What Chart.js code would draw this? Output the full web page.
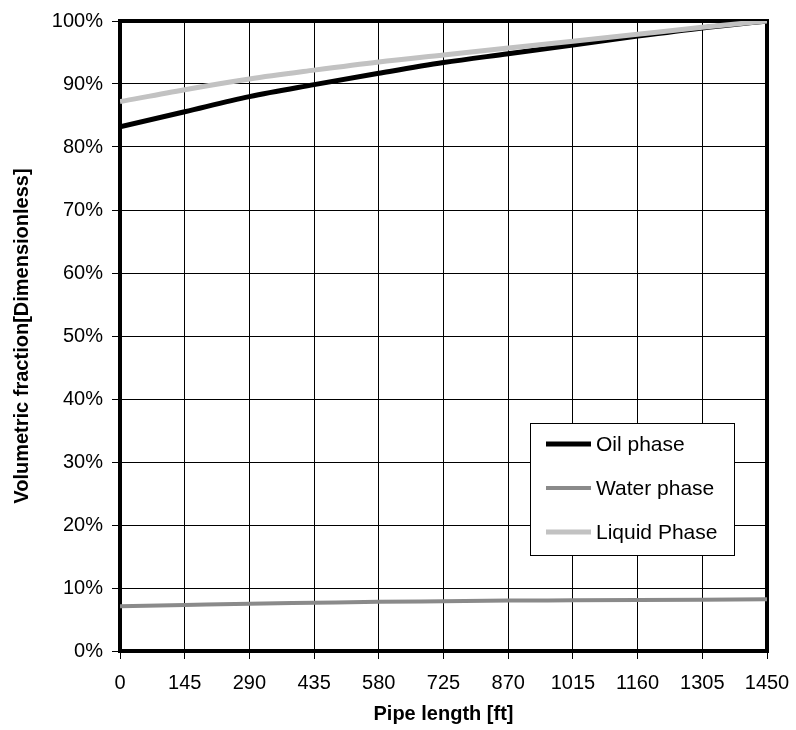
<!DOCTYPE html>
<html>
<head>
<meta charset="utf-8">
<title>Volumetric fraction along pipe</title>
<script src="https://cdn.jsdelivr.net/npm/chart.js@4"></script>
<style>
  html, body { margin: 0; padding: 0; background: #fff; }
  #chart { display: block; }
</style>
</head>
<body>
<canvas id="chart" width="796" height="730"></canvas>
<script>
// distance along the pipe, ft
const pipeLength = [0, 145, 290, 435, 580, 725, 870, 1015, 1160, 1305, 1450];

// volumetric fraction, %
const oilPhase = [83.2, 85.6, 88.0, 89.9, 91.7, 93.4, 94.8, 96.2, 97.6, 98.9, 100.0];
const waterPhase = [7.1, 7.3, 7.5, 7.65, 7.8, 7.9, 8.0, 8.05, 8.1, 8.15, 8.2];
const liquidPhase = [87.2, 89.1, 90.8, 92.2, 93.5, 94.6, 95.7, 96.8, 97.9, 99.0, 100.0];

const xTicks = [0, 145, 290, 435, 580, 725, 870, 1015, 1160, 1305, 1450];
const yTicks = [0, 10, 20, 30, 40, 50, 60, 70, 80, 90, 100];

const toPoints = (ys) => ys.map((y, i) => ({ x: pipeLength[i], y: y }));

Chart.defaults.font.family = "'Liberation Sans', Arial, sans-serif";
Chart.defaults.font.size = 20;
Chart.defaults.color = "#000";

// thick frame round the plot area, drawn under the lines
const plotFrame = {
  id: "plotFrame",
  beforeDatasetsDraw(chart) {
    const { ctx, chartArea: a } = chart;
    ctx.save();
    ctx.strokeStyle = "#000";
    ctx.lineWidth = 4;
    ctx.strokeRect(a.left, a.top, a.right - a.left, a.bottom - a.top);
    ctx.restore();
  },
};

// boxed legend sitting inside the plot
const boxLegend = {
  id: "boxLegend",
  afterDraw(chart) {
    const { ctx } = chart;
    const box = { x: 530, y: 423, w: 204, h: 132 };
    ctx.save();
    ctx.fillStyle = "#fff";
    ctx.fillRect(box.x, box.y, box.w, box.h);
    ctx.strokeStyle = "#000";
    ctx.lineWidth = 1;
    ctx.strokeRect(box.x + 0.5, box.y + 0.5, box.w, box.h);
    ctx.font = "21px 'Liberation Sans', Arial, sans-serif";
    ctx.textBaseline = "middle";
    ctx.textAlign = "left";
    chart.data.datasets.forEach((ds, i) => {
      const y = box.y + 21 + i * 44;
      ctx.strokeStyle = ds.borderColor;
      ctx.lineWidth = ds.borderWidth;
      ctx.beginPath();
      ctx.moveTo(box.x + 16, y);
      ctx.lineTo(box.x + 61, y);
      ctx.stroke();
      ctx.fillStyle = "#000";
      ctx.fillText(ds.label, box.x + 66, y + 1);
    });
    ctx.restore();
  },
};

new Chart(document.getElementById("chart"), {
  type: "line",
  data: {
    datasets: [
      {
        label: "Oil phase",
        data: toPoints(oilPhase),
        borderColor: "#000000",
        borderWidth: 5,
        order: 1,
      },
      {
        label: "Water phase",
        data: toPoints(waterPhase),
        borderColor: "#8a8a8a",
        borderWidth: 4,
        order: 2,
      },
      {
        label: "Liquid Phase",
        data: toPoints(liquidPhase),
        borderColor: "#c2c2c2",
        borderWidth: 5,
        order: 0,
      },
    ],
  },
  options: {
    responsive: false,
    animation: false,
    devicePixelRatio: 1,
    cubicInterpolationMode: "monotone",
    elements: {
      point: { radius: 0 },
      line: { borderCapStyle: "butt" },
    },
    layout: {
      padding: { left: 0, right: 29, top: 19, bottom: 0 },
    },
    plugins: {
      legend: { display: false },
      tooltip: { enabled: false },
    },
    scales: {
      x: {
        type: "linear",
        min: 0,
        max: 1450,
        afterBuildTicks: (axis) => {
          axis.ticks = xTicks.map((v) => ({ value: v }));
        },
        afterFit: (axis) => {
          // fixed band under the plot; end labels may hang over the sides
          axis.height = 79;
          axis.paddingLeft = 0;
          axis.paddingRight = 0;
        },
        grid: {
          color: "#000",
          lineWidth: 1,
          tickLength: 8,
        },
        border: { display: false },
        ticks: {
          padding: 12,
          maxRotation: 0,
          autoSkip: false,
          font: { size: 20 },
          callback: (v) => String(v),
        },
        title: {
          display: true,
          text: "Pipe length [ft]",
          font: { size: 20, weight: "bold" },
          padding: { top: 0, bottom: 4 },
        },
      },
      y: {
        min: 0,
        max: 100,
        afterBuildTicks: (axis) => {
          axis.ticks = yTicks.map((v) => ({ value: v }));
        },
        afterFit: (axis) => {
          axis.width = 120;
        },
        grid: {
          color: "#000",
          lineWidth: 1,
          tickLength: 8,
        },
        border: { display: false },
        ticks: {
          padding: 9,
          font: { size: 20 },
          callback: (v) => v + "%",
        },
        title: {
          display: true,
          text: "Volumetric fraction[Dimensionless]",
          font: { size: 20, weight: "bold" },
          padding: { top: 10, bottom: 0 },
        },
      },
    },
  },
  plugins: [plotFrame, boxLegend],
});
</script>
</body>
</html>
